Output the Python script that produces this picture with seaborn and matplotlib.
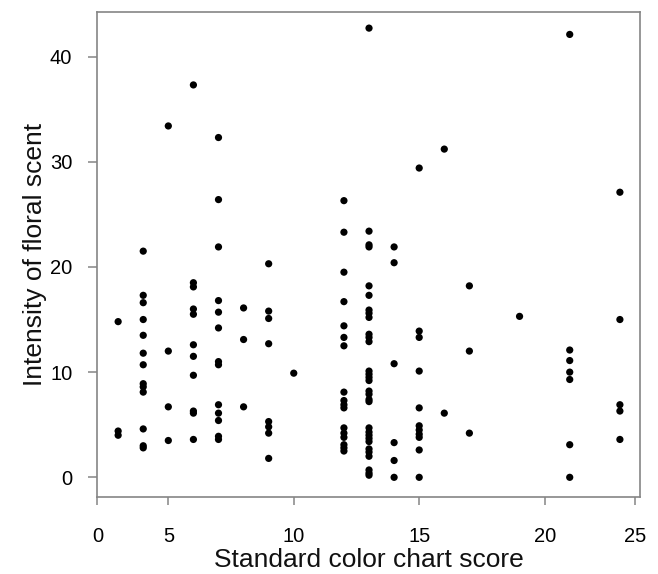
import matplotlib
matplotlib.use("Agg")
import matplotlib.pyplot as plt
import seaborn as sns
import pandas as pd

# Standard color chart score (x) and intensity of floral scent (y), per column
score_3 = [14.8, 4.4, 4.0]
score_4 = [21.5, 17.3, 16.6, 15.0, 13.5, 11.8, 10.7, 8.9, 8.6, 8.1, 4.6, 3.0, 2.8]
score_5 = [33.4, 12.0, 6.7, 3.5]
score_6 = [37.3, 18.5, 18.1, 16.0, 15.5, 12.6, 11.5, 9.7, 6.3, 6.1, 3.6]
score_7 = [32.3, 26.4, 21.9, 16.8, 15.7, 14.2, 11.0, 10.7, 6.9, 6.1, 5.4, 3.9, 3.6]
score_8 = [16.1, 13.1, 6.7]
score_9 = [20.3, 15.8, 15.1, 12.7, 5.3, 4.8, 4.2, 1.8]
score_10 = [9.9]
score_12 = [26.3, 23.3, 19.5, 16.7, 14.4, 13.3, 12.5, 8.1, 7.3, 6.9, 6.6,
            4.7, 4.2, 3.8, 3.1, 2.8, 2.5]
score_13 = [42.7, 23.4, 22.1, 21.9, 18.2, 17.3, 15.9, 15.6, 15.2, 13.6, 13.3, 12.9,
            10.1, 9.8, 9.5, 9.2, 8.2, 7.9, 7.4, 7.2, 4.7, 4.3, 4.0, 3.7, 3.4,
            2.7, 2.4, 2.0, 0.7, 0.4, 0.2]
score_14 = [21.9, 20.4, 10.8, 3.3, 1.6, 0.0]
score_15 = [29.4, 13.9, 13.3, 10.1, 6.6, 4.9, 4.5, 4.1, 3.8, 2.6, 0.0]
score_16 = [31.2, 6.1]
score_17 = [18.2, 12.0, 4.2]
score_19 = [15.3]
score_21 = [42.1, 12.1, 11.1, 10.0, 9.3, 3.1, 0.0]
score_23 = [27.1, 15.0, 6.9, 6.3, 3.6]

columns = {3: score_3, 4: score_4, 5: score_5, 6: score_6, 7: score_7, 8: score_8,
           9: score_9, 10: score_10, 12: score_12, 13: score_13, 14: score_14,
           15: score_15, 16: score_16, 17: score_17, 19: score_19, 21: score_21,
           23: score_23}

xs, ys = [], []
for k, vals in columns.items():
    xs += [k] * len(vals)
    ys += vals
df = pd.DataFrame({"score": xs, "scent": ys})

x_ticks = [5, 10, 15, 20]
x_tick_labels = ["5", "10", "15", "20"]
y_ticks = [0, 10, 20, 30, 40]

sns.set_style("white")
plt.rcParams["font.family"] = ["Liberation Sans", "DejaVu Sans"]

fig = plt.figure(figsize=(6.58, 5.74), dpi=100)
ax = fig.add_axes([0.1479, 0.1347, 0.8247, 0.8449])

sns.scatterplot(data=df, x="score", y="scent", ax=ax, color="black",
                s=27, marker="o", edgecolor="none", linewidth=0)

xmin, xmax = 2.17, 23.8
ax.set_xlim(xmin, xmax)
ax.set_ylim(-1.84, 44.26)

# extra edge labels (0 and 25) sit at the box edges without tick marks
ax.set_xticks([xmin] + x_ticks + [23.62])
ax.set_xticklabels(["0"] + x_tick_labels + ["25"])
ticks = ax.xaxis.get_major_ticks()
ticks[0].tick1line.set_visible(False)
ticks[-1].tick1line.set_visible(False)
ax.set_yticks(y_ticks)

gray = "#858585"
for sp in ax.spines.values():
    sp.set_color(gray)
    sp.set_linewidth(1.2)
    sp.set_visible(True)

ax.tick_params(axis="x", direction="out", length=6, width=1.1, color=gray,
               labelsize=14.5, pad=15.5, labelcolor="black", bottom=True)
ax.tick_params(axis="y", direction="out", length=6.5, width=1.1, color=gray,
               labelsize=14.5, pad=11.5, labelcolor="black", left=True)

ax.set_xlabel("Standard color chart score", fontsize=19, color="#111111")
ax.set_ylabel("Intensity of floral scent", fontsize=19, color="#111111")
ax.xaxis.set_label_coords(0.5, -0.105)
ax.yaxis.set_label_coords(-0.093, 0.5)
ax.grid(False)

fig.savefig("out.png", dpi=100)
